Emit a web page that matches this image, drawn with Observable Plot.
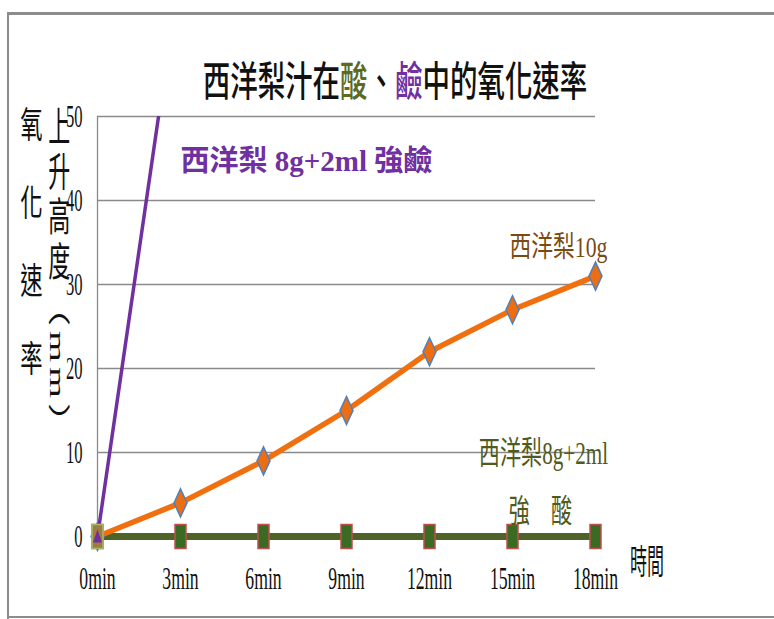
<!DOCTYPE html>
<html>
<head>
<meta charset="utf-8">
<script src="https://cdn.jsdelivr.net/npm/d3@7"></script>
<script src="https://cdn.jsdelivr.net/npm/@observablehq/plot@0.6"></script>
<style>
  body { margin: 0; background: #fff; }
  #wrap { position: relative; width: 774px; height: 619px; overflow: hidden; background: #fff; }
  #wrap svg { position: absolute; left: 0; top: 0; }
  .frameline { position: absolute; background: #8c8c8c; }
  #title {
    position: absolute; left: 0; top: 58px; width: 790px; text-align: center;
    font-family: "Noto Sans CJK TC", sans-serif; font-size: 41px; font-weight: 500; line-height: 1;
    color: #111; transform: scaleX(0.67); transform-origin: 395px 0;
    white-space: nowrap;
  }
  .vt {
    position: absolute; writing-mode: vertical-rl; line-height: 1; white-space: nowrap;
    font-family: "Liberation Serif", "Noto Sans CJK TC", serif; color: #111;
    transform-origin: center top;
  }
  #yt1 { left: 11px; top: 106px; font-size: 36px; letter-spacing: 42px; transform: scaleX(0.62); }
  #yt2 { left: 37px; top: 106px; font-size: 40px; letter-spacing: 5px; transform: scaleX(0.55); }
  #xt {
    position: absolute; left: 613px; top: 543px; width: 68px; text-align: center; line-height: 1;
    font-family: "Noto Sans CJK TC", sans-serif; font-size: 34px; color: #111;
    transform: scaleX(0.5); transform-origin: center top; white-space: nowrap;
  }
</style>
</head>
<body>
<div id="wrap">
  <div class="frameline" style="left:7px;top:12px;width:767px;height:3px;"></div>
  <div class="frameline" style="left:7px;top:12px;width:2px;height:607px;"></div>
  <div class="frameline" style="left:7px;top:616px;width:767px;height:2px;"></div>
  <div id="title">西洋梨汁在<span style="color:#5b6b22">酸</span>、<span style="color:#7030a0">鹼</span>中的氧化速率</div>
  <div class="vt" id="yt1">氧化速率</div>
  <div class="vt" id="yt2">上升高度（mm）</div>
  <div id="xt">時間</div>
</div>
<script>
// ---- data ----
const times = ["0min", "3min", "6min", "9min", "12min", "15min", "18min"];
const pear10g = [0, 4, 9, 15, 22, 27, 31];
const pearAcid = [0, 0, 0, 0, 0, 0, 0];
const baseTimes = ["0min", "3min"];
const pearBase = [0, 68];
const yTicks = [0, 10, 20, 30, 40, 50];

const labelTexts = ["西洋梨 8g+2ml 強鹼", "西洋梨10g", "西洋梨8g+2ml", "強　酸"];
const labelTimes = ["3min", "18min", "15min", "15min"];
const labelValues = [44.6, 34.4, 9.8, 2.9];

// ---- tables ----
const rows10 = times.map((t, i) => ({t, v: pear10g[i]}));
const rowsAcid = times.map((t, i) => ({t, v: pearAcid[i]}));
const rowsBase = baseTimes.map((t, i) => ({t, v: pearBase[i]}));
const labels = labelTexts.map((text, i) => ({text, t: labelTimes[i], v: labelValues[i]}));

// ---- custom marker shapes ----
const tallDiamond = {draw(ctx) { ctx.moveTo(0, -14); ctx.lineTo(6.5, 0); ctx.lineTo(0, 14); ctx.lineTo(-6.5, 0); ctx.closePath(); }};
const tallSquare = {draw(ctx) { ctx.rect(-5.5, -12, 11, 24); }};
const tri = {draw(ctx) { ctx.moveTo(0, -7); ctx.lineTo(4.5, 6); ctx.lineTo(-4.5, 6); ctx.closePath(); }};

const inFrame = d => d.v <= 50;

const chart = Plot.plot({
  width: 774,
  height: 619,
  marginLeft: 97,
  marginRight: 179,
  marginTop: 116,
  marginBottom: 83,
  style: {fontFamily: "'Liberation Serif', 'Noto Sans CJK TC', serif", background: "transparent", color: "#111"},
  x: {type: "point", domain: times, padding: 0},
  y: {domain: [0, 50]},
  marks: [
    Plot.ruleY(yTicks.filter(d => d > 0), {stroke: "#8a8a8a", strokeWidth: 1.3}),
    Plot.ruleX([times[0]], {stroke: "#8a8a8a", strokeWidth: 1.3}),
    Plot.axisY(yTicks, {tickSize: 0, tickPadding: 15, fontSize: 32, label: null}),
    Plot.axisX(times, {tickSize: 0, tickPadding: 30, fontSize: 31, label: null}),
    Plot.line(rowsAcid, {x: "t", y: "v", stroke: "#4f6228", strokeWidth: 7}),
    Plot.dot(rowsAcid, {x: "t", y: "v", symbol: tallSquare, fill: "#3b6a22", stroke: "#c0504d", strokeWidth: 1.5}),
    Plot.line(rows10, {x: "t", y: "v", stroke: "#f0700f", strokeWidth: 5.5}),
    Plot.dot(rows10, {x: "t", y: "v", symbol: tallDiamond, fill: "#ec6d12", stroke: "#4f81bd", strokeWidth: 1.5}),
    Plot.line(rowsBase, {x: "t", y: "v", stroke: "#7030a0", strokeWidth: 3.5, clip: true}),
    Plot.dot(rowsBase, {x: "t", y: "v", filter: inFrame, symbol: tallSquare, fill: "#a27a45", stroke: "#a9b96a", strokeWidth: 1.5}),
    Plot.dot(rowsBase, {x: "t", y: "v", filter: inFrame, symbol: tri, fill: "#7030a0"}),
    Plot.text(labels.slice(0, 1), {x: "t", y: "v", text: "text", textAnchor: "start", fontSize: 29, fontWeight: "bold", fill: "#7030a0"}),
    Plot.text(labels.slice(1, 2), {x: "t", y: "v", text: "text", textAnchor: "end", dx: 12, fontSize: 29, fill: "#7b4a12"}),
    Plot.text(labels.slice(2, 3), {x: "t", y: "v", text: "text", dx: 31, fontSize: 32, fill: "#4f5a1e"}),
    Plot.text(labels.slice(3, 4), {x: "t", y: "v", text: "text", dx: 28, fontSize: 32, fill: "#4f5a1e"})
  ]
});

const wrap = document.getElementById("wrap");
wrap.insertBefore(chart, wrap.firstChild);

// horizontally condense text like the reference (glyph compression via textLength)
const squeezeMap = new Map([["西洋梨10g", 0.75], ["西洋梨8g+2ml", 0.66], ["強　酸", 0.66]]);
chart.querySelectorAll("text").forEach(el => {
  const s = el.textContent;
  const sx = squeezeMap.has(s) ? squeezeMap.get(s)
    : /^\d+min$/.test(s) ? 0.57
    : /^\d+$/.test(s) ? 0.52 : 1;
  if (sx !== 1) {
    const L = el.getComputedTextLength();
    el.setAttribute("textLength", (L * sx).toFixed(1));
    el.setAttribute("lengthAdjust", "spacingAndGlyphs");
  }
});
</script>
</body>
</html>
